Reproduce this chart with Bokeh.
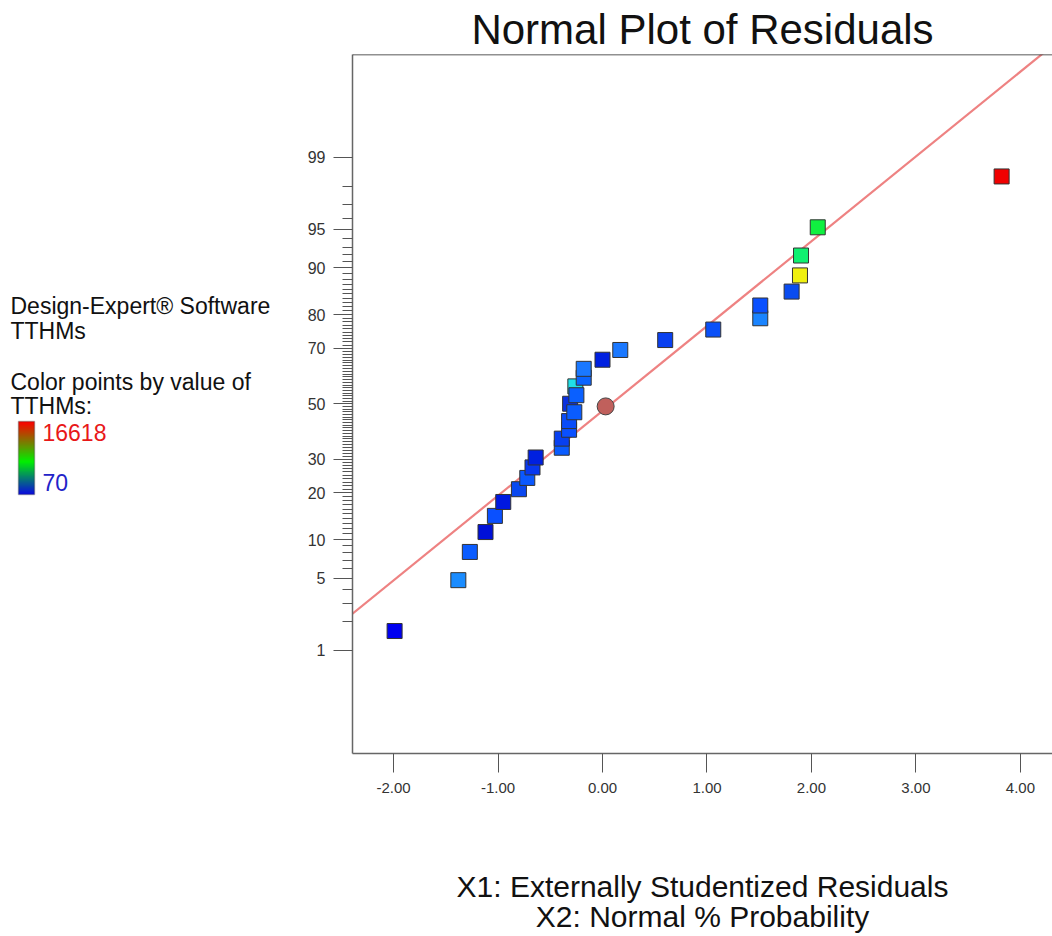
from statistics import NormalDist
import numpy as np
from bokeh.plotting import figure
from bokeh.layouts import row
from bokeh.models import (Range1d, FixedTicker, CustomJSTickFormatter, NumeralTickFormatter,
                          Span, Label, LinearColorMapper, BoxAnnotation)
from bokeh.embed import file_html
from bokeh.resources import INLINE

# ---------------- data ----------------
residuals = [-0.31, -0.26, -1.99, -1.38, -1.27, -1.12, -1.03, -0.95, -0.80, -0.72,
             -0.67, -0.64, -0.39, -0.39, -0.32, -0.32, -0.27, -0.25, -0.18, -0.18,
             0.00, 0.17, 0.60, 1.06, 1.51, 1.51, 1.81, 1.89, 1.90, 2.06, 3.82]
normal_pct = [50.0, 56.5, 1.6, 4.8, 8.1, 11.3, 14.5, 17.7, 21.0, 24.2,
              27.4, 30.6, 33.9, 37.1, 40.3, 43.5, 46.8, 53.2, 59.7, 62.9,
              66.1, 69.4, 72.6, 75.8, 79.0, 82.3, 85.5, 88.7, 91.9, 95.2, 98.4]
point_colors = ["#0a30e0", "#20e0e8", "#0000f0", "#1a8cff", "#0a5cff", "#0010d8", "#0a50ff",
                "#0018e0", "#0a48f0", "#0a58ff", "#0838f0", "#0020e0", "#0a5cff", "#0840f0",
                "#0a50ff", "#0a4cf8", "#0a5cff", "#0a60ff", "#0a64ff", "#1a78ff", "#0020e0",
                "#1a78ff", "#0a40f0", "#0a50f8", "#1a84ff", "#0a50ff", "#0a4cf0", "#f0f010",
                "#10f070", "#10f040", "#f00000"]

center_residual = [0.03]
center_pct = [49.0]

y_tick_pct = [1, 5, 10, 20, 30, 50, 70, 80, 90, 95, 99]
y_minor_pct = [v for v in range(2, 99) if v not in y_tick_pct]
x_ticks = [-2, -1, 0, 1, 2, 3, 4]

fit_gradient = 0.80
fit_intercept = -0.067

legend_low = 70
legend_high = 16618

# ---------------- helpers ----------------
nd = NormalDist()


def probit(p):
    return nd.inv_cdf(p / 100.0)


FONT = "Liberation Sans"
X0, X1 = -2.393, 4.307
Y0, Y1 = -3.30, 3.295
H = 936
TOP, BOTTOM = 54, 183
LEG_W = 298

# ---------------- main plot ----------------
p = figure(width=1052 - LEG_W, height=H, title="Normal Plot of Residuals",
           x_range=Range1d(X0, X1), y_range=Range1d(Y0, Y1),
           output_backend="svg", toolbar_location=None,
           min_border_left=54, min_border_right=0, min_border_top=TOP, min_border_bottom=BOTTOM,
           outline_line_color=None, background_fill_color="white", border_fill_color="white")
p.grid.visible = False
p.title.align = "center"
p.title.text_font = FONT
p.title.text_font_size = "42px"
p.title.text_font_style = "normal"
p.title.text_color = "#111111"
p.title.text_line_height = 1.0
p.title.standoff = 4

xa = p.xaxis[0]
xa.ticker = FixedTicker(ticks=x_ticks)
xa.formatter = NumeralTickFormatter(format="0.00")
xa.major_tick_out = 19
xa.major_tick_in = 0
xa.minor_tick_out = 0
xa.minor_tick_in = 0
xa.axis_line_color = "#666666"
xa.axis_line_width = 1.5
xa.major_tick_line_color = "#555555"
xa.major_label_text_font = FONT
xa.major_label_text_font_size = "15px"
xa.major_label_text_color = "#333333"
xa.major_label_standoff = 10
xa.axis_label = "X1: Externally Studentized Residuals\nX2: Normal % Probability"
xa.axis_label_text_font = FONT
xa.axis_label_text_font_size = "30px"
xa.axis_label_text_font_style = "normal"
xa.axis_label_text_color = "#111111"
xa.axis_label_text_line_height = 0.93
xa.axis_label_standoff = 74

ya = p.yaxis[0]
y_tick_z = [probit(v) for v in y_tick_pct]
ya.ticker = FixedTicker(ticks=y_tick_z, minor_ticks=[probit(v) for v in y_minor_pct])
ya.formatter = CustomJSTickFormatter(
    args=dict(zs=y_tick_z, labels=[str(v) for v in y_tick_pct]),
    code="""
let best = 0;
for (let i = 0; i < zs.length; i++) {
  if (Math.abs(zs[i] - tick) < Math.abs(zs[best] - tick)) best = i;
}
return labels[best];
""")
ya.major_tick_out = 19
ya.major_tick_in = 0
ya.minor_tick_out = 10
ya.minor_tick_in = 0
ya.axis_line_color = "#666666"
ya.axis_line_width = 1.5
ya.major_tick_line_color = "#555555"
ya.minor_tick_line_color = "#555555"
ya.major_label_text_font = FONT
ya.major_label_text_font_size = "16px"
ya.major_label_text_color = "#333333"
ya.major_label_standoff = 8

# top border of the frame
p.add_layout(Span(location=Y1, dimension="width", line_color="#222222", line_width=1.5))

# fitted normal line
line_x = [X0 - 1, X1 + 1]
line_y = [fit_gradient * v + fit_intercept for v in line_x]
p.line(line_x, line_y, line_color="#ee8282", line_width=2.2)

# points
p.scatter([float(v) for v in residuals], [probit(v) for v in normal_pct], marker="square", size=15,
          fill_color=point_colors, line_color="#333333", line_width=1)
p.scatter(center_residual, [probit(v) for v in center_pct], marker="circle", size=17,
          fill_color="#c0605c", line_color="#444444", line_width=1)

# ---------------- legend panel (frame aligned with the main frame) ----------------
leg = figure(width=LEG_W, height=H, x_range=Range1d(0, LEG_W), y_range=Range1d(BOTTOM, H - TOP),
             output_backend="svg", toolbar_location=None,
             min_border_left=0, min_border_right=0, min_border_top=TOP, min_border_bottom=BOTTOM,
             x_axis_location=None, y_axis_location=None, title=None,
             outline_line_color=None, background_fill_color="white", border_fill_color="white")
leg.grid.visible = False

legend_texts = [("Design-Expert\u00ae Software", 10, H - 305, "#111111"),
                ("TTHMs", 10, H - 330, "#111111"),
                ("Color points by value of", 10, H - 381, "#111111"),
                ("TTHMs:", 10, H - 405, "#111111"),
                (str(legend_high), 42, H - 432, "#e81818"),
                (str(legend_low), 42, H - 482, "#2323c8")]
for txt, lx, ly, col in legend_texts:
    leg.add_layout(Label(x=lx, y=ly, text=txt, text_align="left", text_baseline="middle",
                         text_font=FONT, text_font_size="23px", text_color=col))


def hex2rgb(h):
    return np.array([int(h[i:i + 2], 16) for i in (1, 3, 5)], dtype=float)


stops = [(0.0, "#0a0ae0"), (0.45, "#00f000"), (1.0, "#ff0000")]
pal = []
for t in np.linspace(0, 1, 256):
    for (t0, c0), (t1, c1) in zip(stops[:-1], stops[1:]):
        if t0 <= t <= t1:
            f = (t - t0) / (t1 - t0)
            c = hex2rgb(c0) * (1 - f) + hex2rgb(c1) * f
            pal.append("#%02x%02x%02x" % tuple(int(round(v)) for v in c))
            break
mapper = LinearColorMapper(palette=pal, low=legend_low, high=legend_high)
grad = np.linspace(legend_low, legend_high, 200).reshape(200, 1)
leg.image(image=[grad], x=18, y=H - 494, dw=16, dh=73, color_mapper=mapper)
leg.add_layout(BoxAnnotation(left=18, right=34, bottom=H - 494, top=H - 421, fill_alpha=0,
                             line_color="#222222", line_width=1.5))

layout = row(leg, p)
open("out.html", "w").write(file_html(layout, INLINE))
